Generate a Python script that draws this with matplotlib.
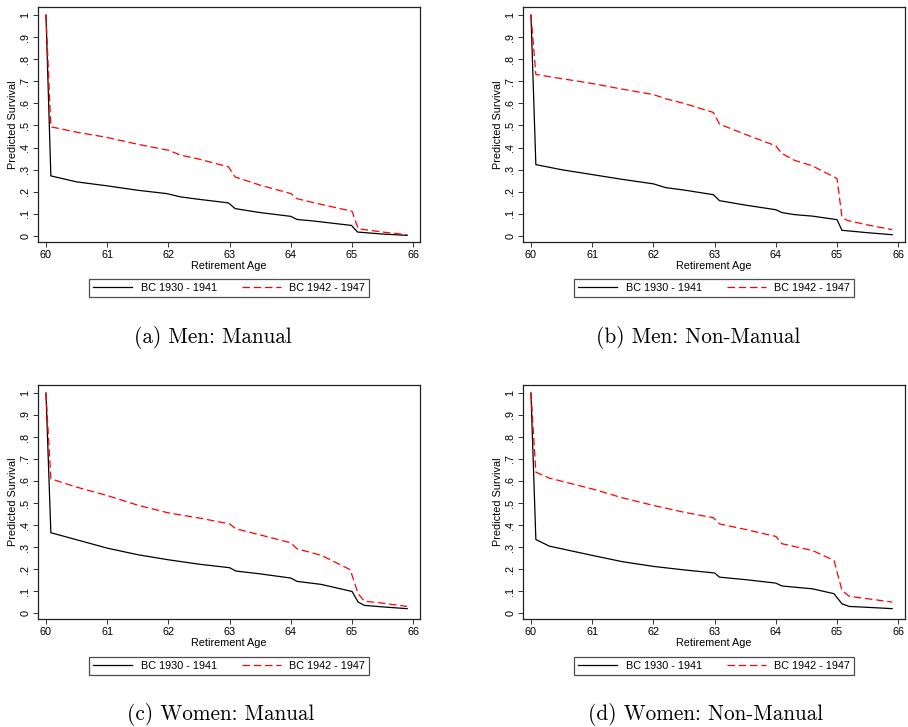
import matplotlib
matplotlib.use("Agg")
import matplotlib.pyplot as plt

# predicted survival curves
age_a_old = [60.0, 60.08, 60.5, 61.0, 61.5, 61.97, 62.2, 62.5, 62.98, 63.09, 63.5, 64.0, 64.1, 64.37, 64.99, 65.09, 65.5, 65.9]
surv_a_old = [1.0, 0.272, 0.245, 0.227, 0.207, 0.192, 0.177, 0.166, 0.15, 0.124, 0.106, 0.089, 0.075, 0.068, 0.048, 0.018, 0.009, 0.003]
age_a_new = [60.0, 60.08, 60.5, 61.0, 61.5, 62.0, 62.2, 62.5, 62.98, 63.09, 63.5, 64.0, 64.1, 64.37, 65.0, 65.1, 65.5, 65.9]
surv_a_new = [1.0, 0.494, 0.47, 0.446, 0.415, 0.388, 0.366, 0.348, 0.313, 0.267, 0.23, 0.192, 0.169, 0.151, 0.112, 0.033, 0.018, 0.006]

age_b_old = [60.0, 60.08, 60.5, 61.0, 61.5, 62.0, 62.2, 62.5, 62.98, 63.08, 63.5, 64.0, 64.1, 64.3, 64.6, 65.0, 65.08, 65.5, 65.9]
surv_b_old = [1.0, 0.323, 0.3, 0.278, 0.256, 0.236, 0.219, 0.208, 0.187, 0.16, 0.14, 0.119, 0.106, 0.097, 0.09, 0.074, 0.026, 0.015, 0.006]
age_b_new = [60.0, 60.08, 60.5, 61.0, 61.5, 62.0, 62.2, 62.5, 62.98, 63.08, 63.5, 64.0, 64.1, 64.3, 64.6, 65.0, 65.08, 65.16, 65.5, 65.9]
surv_b_new = [1.0, 0.731, 0.712, 0.69, 0.664, 0.64, 0.621, 0.6, 0.559, 0.506, 0.46, 0.408, 0.373, 0.343, 0.317, 0.26, 0.086, 0.071, 0.05, 0.029]

age_c_old = [60.0, 60.08, 60.5, 61.0, 61.5, 62.0, 62.5, 63.0, 63.1, 63.5, 64.0, 64.1, 64.5, 65.0, 65.1, 65.2, 65.5, 65.9]
surv_c_old = [1.0, 0.365, 0.333, 0.295, 0.265, 0.242, 0.222, 0.206, 0.191, 0.178, 0.159, 0.144, 0.13, 0.098, 0.05, 0.035, 0.028, 0.02]
age_c_new = [60.0, 60.08, 60.5, 61.0, 61.5, 62.0, 62.5, 63.0, 63.1, 63.5, 64.0, 64.1, 64.5, 64.97, 65.1, 65.2, 65.5, 65.9]
surv_c_new = [1.0, 0.61, 0.572, 0.534, 0.49, 0.455, 0.432, 0.405, 0.383, 0.355, 0.319, 0.292, 0.262, 0.197, 0.088, 0.054, 0.045, 0.03]

age_d_old = [60.0, 60.08, 60.3, 61.0, 61.5, 62.0, 62.5, 63.0, 63.08, 63.5, 64.0, 64.1, 64.6, 64.95, 65.08, 65.2, 65.5, 65.9]
surv_d_old = [1.0, 0.334, 0.304, 0.262, 0.233, 0.212, 0.196, 0.182, 0.163, 0.152, 0.136, 0.123, 0.11, 0.088, 0.042, 0.03, 0.026, 0.02]
age_d_new = [60.0, 60.08, 60.3, 61.0, 61.5, 62.0, 62.5, 62.98, 63.08, 63.5, 64.0, 64.1, 64.6, 64.95, 65.08, 65.2, 65.5, 65.9]
surv_d_new = [1.0, 0.64, 0.613, 0.564, 0.523, 0.489, 0.458, 0.433, 0.405, 0.38, 0.348, 0.315, 0.284, 0.239, 0.103, 0.076, 0.065, 0.05]

cohorts = ["BC 1930 - 1941", "BC 1942 - 1947"]
captions = ["(a) Men: Manual", "(b) Men: Non-Manual",
            "(c) Women: Manual", "(d) Women: Non-Manual"]
xticks = [60, 61, 62, 63, 64, 65, 66]
yticks = [0, .1, .2, .3, .4, .5, .6, .7, .8, .9, 1]
ytick_labels = ["0", ".1", ".2", ".3", ".4", ".5", ".6", ".7", ".8", ".9", "1"]

panels = [
    (age_a_old, surv_a_old, age_a_new, surv_a_new),
    (age_b_old, surv_b_old, age_b_new, surv_b_new),
    (age_c_old, surv_c_old, age_c_new, surv_c_new),
    (age_d_old, surv_d_old, age_d_new, surv_d_new),
]

plt.rcParams['font.family'] = ['Liberation Sans', 'DejaVu Sans']

W, H = 908, 727
fig = plt.figure(figsize=(W / 100, H / 100), dpi=100)

# pixel boxes: (left, right, top, bottom) for each axes
boxes = [(38, 420, 7, 242), (523, 905, 7, 242),
         (38, 420, 385, 619), (523, 905, 385, 619)]
legend_pos = [(229, 288), (714, 288), (229, 666), (714, 666)]
caption_pos = [(213, 338), (698, 338), (221, 715), (706, 715)]

for i, (xo, yo, xn, yn) in enumerate(panels):
    l, r, t, b = boxes[i]
    ax = fig.add_axes([l / W, 1 - b / H, (r - l) / W, (b - t) / H])
    ax.plot(xo, yo, color='black', lw=0.9, label=cohorts[0])
    ax.plot(xn, yn, color='red', lw=0.9, ls=(0, (6, 3)), label=cohorts[1])
    ax.set_xlim(59.87, 66.11)
    ax.set_ylim(-0.027, 1.036)
    ax.set_xticks(xticks)
    ax.set_yticks(yticks)
    ax.set_yticklabels(ytick_labels, rotation=90, va='center')
    ax.tick_params(labelsize=7.8, length=3.5, width=0.7, pad=2, color='#333333')
    ax.set_xlabel("Retirement Age", fontsize=7.8, labelpad=1)
    ax.set_ylabel("Predicted Survival", fontsize=7.8, labelpad=2)
    for s in ax.spines.values():
        s.set_linewidth(0.9)
        s.set_color('#222222')

    lx, ly = legend_pos[i]
    leg = fig.legend(handles=ax.get_lines(), loc='center',
                     bbox_to_anchor=(lx / W, 1 - ly / H), ncol=2,
                     fontsize=7.8, frameon=True, fancybox=False,
                     edgecolor='#222222', handlelength=3.6, columnspacing=2.3,
                     borderpad=0.35, handletextpad=0.8)
    leg.get_frame().set_linewidth(0.9)

    cx, cy = caption_pos[i]
    fig.text(cx / W, 1 - cy / H, captions[i], ha='center', va='center',
             fontsize=15.3, family='cmr10')

fig.savefig("out.png", dpi=100)
